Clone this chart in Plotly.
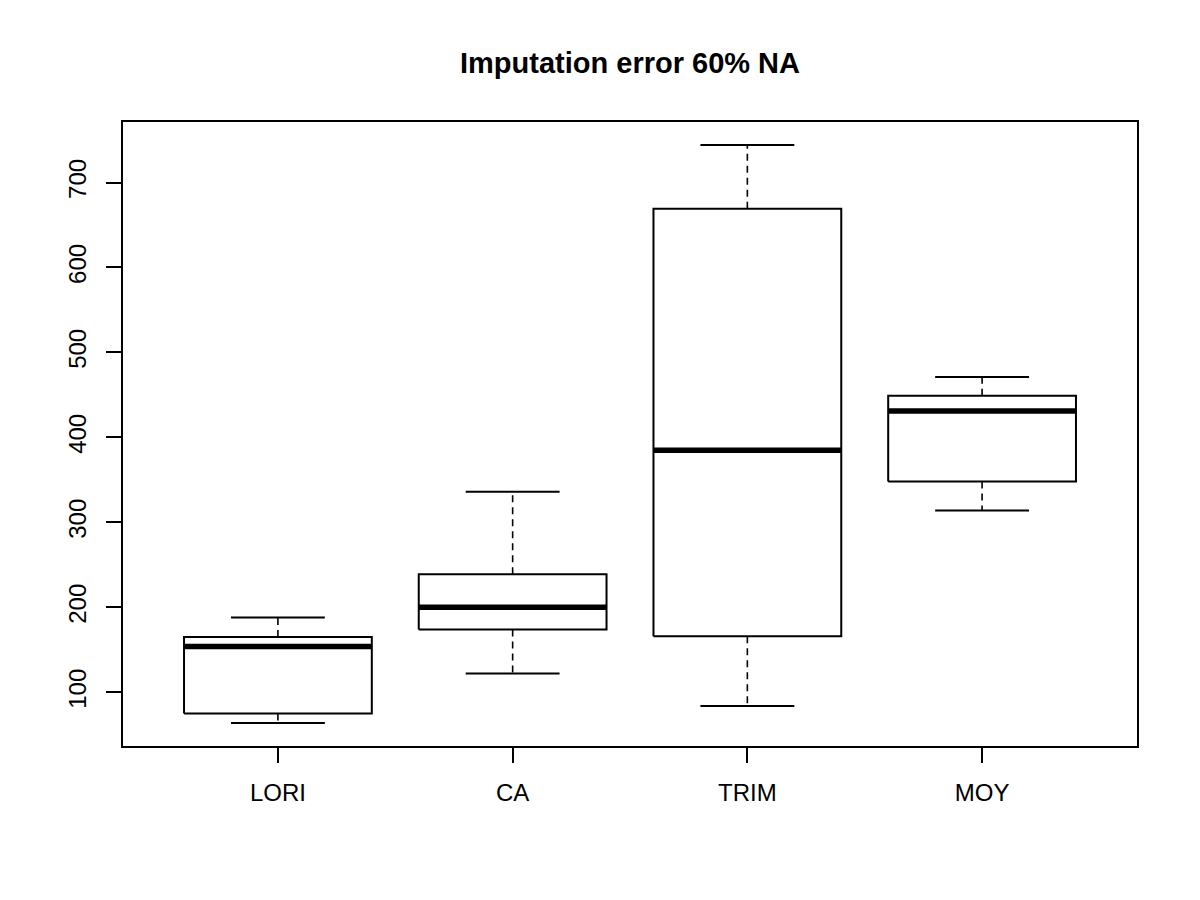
import plotly.graph_objects as go

# ---- data ----
categories = ["LORI", "CA", "TRIM", "MOY"]
lower_whisker = [64, 122, 84, 314]
q1 = [75, 174, 166, 348]
median = [154, 200, 385, 431]
q3 = [165, 239, 669, 449]
upper_whisker = [188, 336, 744, 471]
y_tick_vals = [100, 200, 300, 400, 500, 600, 700]

# ---- style constants ----
BOX_HALF = 0.4
CAP_HALF = 0.2
FONT = "Liberation Sans, Arial, Helvetica, sans-serif"

positions = list(range(1, len(categories) + 1))

fig = go.Figure()
for i, c in enumerate(positions):
    # box rectangle
    fig.add_trace(go.Scatter(
        x=[c - BOX_HALF, c + BOX_HALF, c + BOX_HALF, c - BOX_HALF, c - BOX_HALF],
        y=[q1[i], q1[i], q3[i], q3[i], q1[i]],
        mode="lines", line=dict(color="black", width=2),
        hoverinfo="skip", showlegend=False))
    # whiskers (dashed)
    fig.add_trace(go.Scatter(
        x=[c, c, None, c, c],
        y=[q3[i], upper_whisker[i], None, q1[i], lower_whisker[i]],
        mode="lines", line=dict(color="black", width=1.6, dash="7px,5px"),
        hoverinfo="skip", showlegend=False))
    # caps
    fig.add_trace(go.Scatter(
        x=[c - CAP_HALF, c + CAP_HALF, None, c - CAP_HALF, c + CAP_HALF],
        y=[upper_whisker[i], upper_whisker[i], None, lower_whisker[i], lower_whisker[i]],
        mode="lines", line=dict(color="black", width=2),
        hoverinfo="skip", showlegend=False))
    # median
    fig.add_trace(go.Scatter(
        x=[c - BOX_HALF, c + BOX_HALF],
        y=[median[i], median[i]],
        mode="lines", line=dict(color="black", width=5.5),
        hoverinfo="skip", showlegend=False))

n = len(categories)
x_lo, x_hi = 0.5, n + 0.5
x_ext = 0.04 * (x_hi - x_lo)
y_min, y_max = min(lower_whisker), max(upper_whisker)
y_ext = 0.04 * (y_max - y_min)

fig.update_layout(
    width=1200, height=900,
    margin=dict(l=123, r=63, t=122, b=154),
    paper_bgcolor="white", plot_bgcolor="white",
    font=dict(family=FONT, size=24, color="black"),
    title=dict(text="<b>Imputation error 60% NA</b>",
               font=dict(family=FONT, size=29, color="black"),
               x=0.5, xref="paper", xanchor="center",
               y=1 - 63 / 900, yref="container", yanchor="middle"),
    xaxis=dict(range=[x_lo - x_ext, x_hi + x_ext],
               tickmode="array", tickvals=positions, ticktext=categories,
               showgrid=False, zeroline=False,
               showline=True, mirror=True, linecolor="black", linewidth=2,
               ticks="outside", ticklen=15, tickwidth=1.5, tickcolor="black",
               ticklabelstandoff=9),
    yaxis=dict(range=[y_min - y_ext, y_max + y_ext],
               tickmode="array", tickvals=y_tick_vals,
               showgrid=False, zeroline=False,
               showline=True, mirror=True, linecolor="black", linewidth=2,
               ticks="outside", ticklen=15, tickwidth=1.5, tickcolor="black",
               tickangle=-90, ticklabelstandoff=10),
)

fig.write_html("out.html")
